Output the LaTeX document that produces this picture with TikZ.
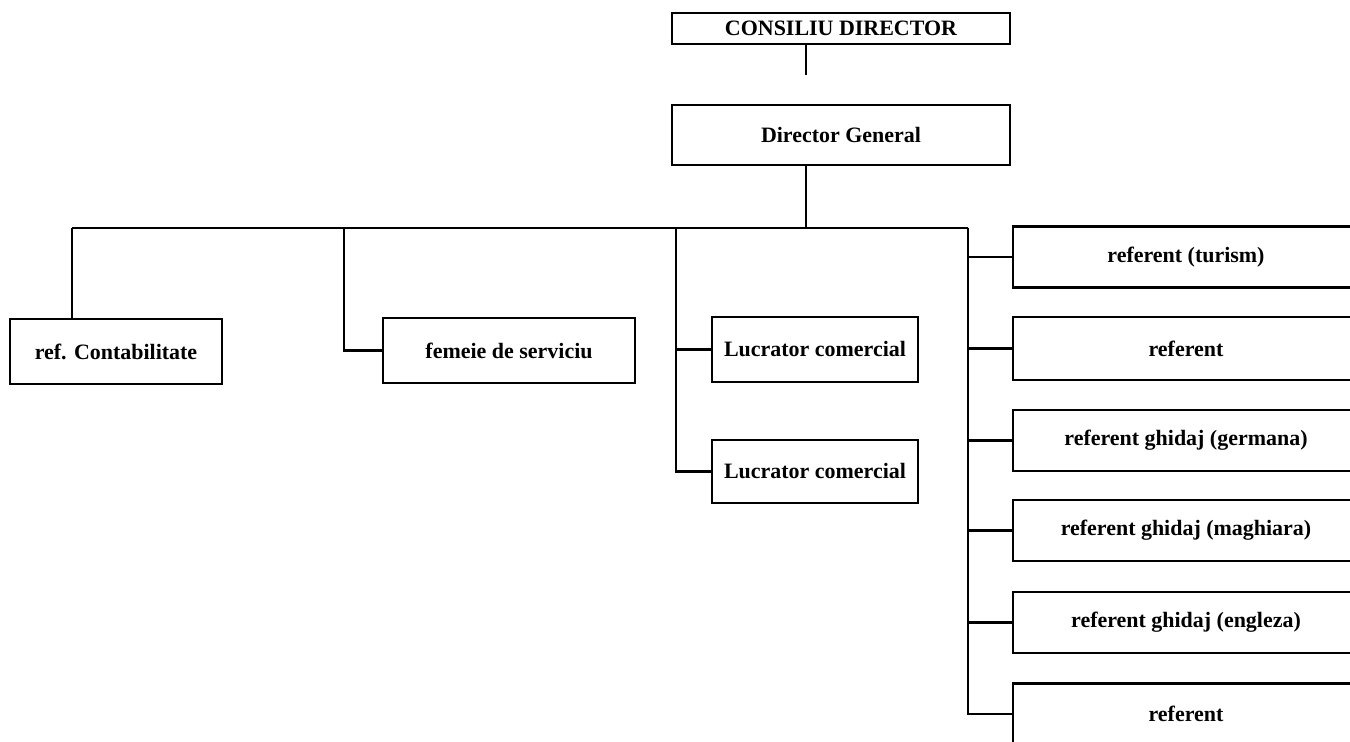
\documentclass[tikz,border=0pt]{standalone}
\usepackage{fontspec}
\setmainfont{Liberation Serif}
\usetikzlibrary{calc}

\begin{document}
\begin{tikzpicture}[x=0.02cm, y=-0.02cm, line width=1.2pt,
    box/.style={rectangle, draw, inner sep=0pt, font=\fontsize{12.5}{14}\selectfont\bfseries},
    top/.style={box, minimum width=6.76cm},
    low/.style={box, minimum height=1.3cm},
    ref/.style={box, minimum width=6.92cm, minimum height=1.22cm}]
    \useasboundingbox (0,0) rectangle (1350,742);
    \node[top, minimum height=0.62cm] (cd) at (841,28.5) {CONSILIU DIRECTOR};
    \node[top, minimum height=1.2cm] (dg) at (841,135) {Director General};
    \node[low, minimum width=4.24cm] (rc) at (116,351.5) {ref. Contabilitate};
    \node[low, minimum width=5.04cm] (fs) at (509,350.5) {femeie de serviciu};
    \node[low, minimum width=4.12cm] (lc1) at (815,349.5) {Lucrator comercial};
    \node[low, minimum width=4.12cm, minimum height=1.26cm] (lc2) at (815,471.5) {Lucrator comercial};
    \node[ref] (rf1) at (1186,257) {referent (turism)};
    \node[ref, minimum height=1.26cm] (rf2) at (1186,348.5) {referent};
    \node[ref] (rf3) at (1186,440.5) {referent ghidaj (germana)};
    \node[ref] (rf4) at (1186,530.5) {referent ghidaj (maghiara)};
    \node[ref] (rf5) at (1186,622.5) {referent ghidaj (engleza)};
    \node[ref] (rf6) at (1186,714) {referent};
    \coordinate (cdL) at (806,75);
    \coordinate (busD) at (806,228);
    \coordinate (busL) at (72,228);
    \coordinate (busR) at (968,228);
    \coordinate (fsT) at (344,228);
    \coordinate (lcT) at (676,228);
    \draw (cd.south -| cdL) -- (cdL);
    \draw (dg.south -| busD) -- (busD);
    \draw (busL) -- (busR);
    \draw (busL) -- (busL |- rc.north);
    \draw (fsT) |- (fs);
    \draw (lcT) |- (lc1);
    \draw (lcT) |- (lc2);
    \draw (busR) |- (rf1);
    \draw (busR) |- (rf2);
    \draw (busR) |- (rf3);
    \draw (busR) |- (rf4);
    \draw (busR) |- (rf5);
    \draw (busR) |- (rf6);
\end{tikzpicture}
\end{document}
